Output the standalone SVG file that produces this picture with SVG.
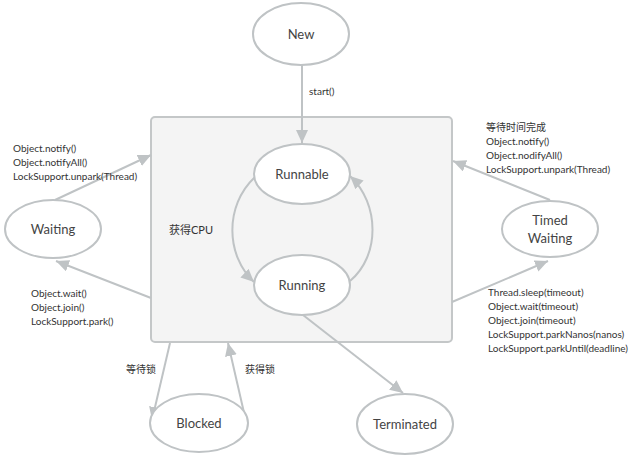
<svg xmlns="http://www.w3.org/2000/svg" width="638" height="460" viewBox="0 0 638 460">
<style>
.node ellipse{fill:#fff;stroke:#bfc3c5;stroke-width:2}
.node text{font-family:Lato,"Liberation Sans",sans-serif;font-size:13px;fill:#444;text-anchor:middle}
.lbl{font-family:Lato,"Noto Sans CJK SC",sans-serif;font-size:10px;fill:#333}
.edge{fill:none;stroke:#bfc3c5;stroke-width:2}
</style>
<defs>
<marker id="ah" markerUnits="userSpaceOnUse" markerWidth="14" markerHeight="12" refX="13" refY="6" orient="auto">
<path d="M0,0 L13,6 L0,12 z" fill="#bfc3c5"/>
</marker>
</defs>
<rect width="638" height="460" fill="#fff"/>
<g id="container">
<rect x="151" y="117" width="301" height="225" rx="4" fill="#f4f4f4" stroke="#c4c7c8" stroke-width="2"/>
<text class="lbl" x="169" y="234" style="font-size:11px">获得CPU</text>
</g>
<g id="connectors">
<path class="edge" d="M302,65 L302,143" marker-end="url(#ah)"/>
<path class="edge" d="M255,177 C224,206 226,256 254,282" marker-end="url(#ah)"/>
<path class="edge" d="M350,281 C380,256 380,204 350,176" marker-end="url(#ah)"/>
<path class="edge" d="M55,200 L151,155" marker-end="url(#ah)"/>
<path class="edge" d="M151,298 L56,261" marker-end="url(#ah)"/>
<path class="edge" d="M550,200 L453,161" marker-end="url(#ah)"/>
<path class="edge" d="M452,302 L548,261" marker-end="url(#ah)"/>
<path class="edge" d="M170,343 L152,420" marker-end="url(#ah)"/>
<path class="edge" d="M245,417 L228,343" marker-end="url(#ah)"/>
<path class="edge" d="M303,315 L403,393" marker-end="url(#ah)"/>
</g>
<g id="labels">
<text class="lbl" x="309" y="95">start()</text>
<text class="lbl" x="13" y="152">Object.notify()</text>
<text class="lbl" x="13" y="166">Object.notifyAll()</text>
<text class="lbl" x="13" y="180">LockSupport.unpark(Thread)</text>
<text class="lbl" x="486" y="131">等待时间完成</text>
<text class="lbl" x="486" y="145">Object.notify()</text>
<text class="lbl" x="486" y="159">Object.nodifyAll()</text>
<text class="lbl" x="486" y="173">LockSupport.unpark(Thread)</text>
<text class="lbl" x="31" y="297">Object.wait()</text>
<text class="lbl" x="31" y="311">Object.join()</text>
<text class="lbl" x="31" y="325">LockSupport.park()</text>
<text class="lbl" x="488" y="296">Thread.sleep(timeout)</text>
<text class="lbl" x="488" y="310">Object.wait(timeout)</text>
<text class="lbl" x="488" y="324">Object.join(timeout)</text>
<text class="lbl" x="488" y="338">LockSupport.parkNanos(nanos)</text>
<text class="lbl" x="488" y="352">LockSupport.parkUntil(deadline)</text>
<text class="lbl" x="126" y="373">等待锁</text>
<text class="lbl" x="245" y="373">获得锁</text>
</g>
<g id="New" class="node"><ellipse cx="301" cy="34" rx="48" ry="31"/><text x="301" y="39">New</text></g>
<g id="Runnable" class="node"><ellipse cx="302" cy="174" rx="48" ry="30"/><text x="302" y="179">Runnable</text></g>
<g id="Running" class="node"><ellipse cx="302" cy="285" rx="48" ry="30"/><text x="302" y="290">Running</text></g>
<g id="Waiting" class="node"><ellipse cx="53" cy="229" rx="48" ry="29"/><text x="53" y="234">Waiting</text></g>
<g id="TimedWaiting" class="node"><ellipse cx="550" cy="229" rx="48" ry="28"/><text x="550" y="225">Timed</text><text x="550" y="243">Waiting</text></g>
<g id="Blocked" class="node"><ellipse cx="199" cy="423" rx="49" ry="29"/><text x="199" y="428">Blocked</text></g>
<g id="Terminated" class="node"><ellipse cx="405" cy="424" rx="48" ry="30"/><text x="405" y="429">Terminated</text></g>
</svg>
